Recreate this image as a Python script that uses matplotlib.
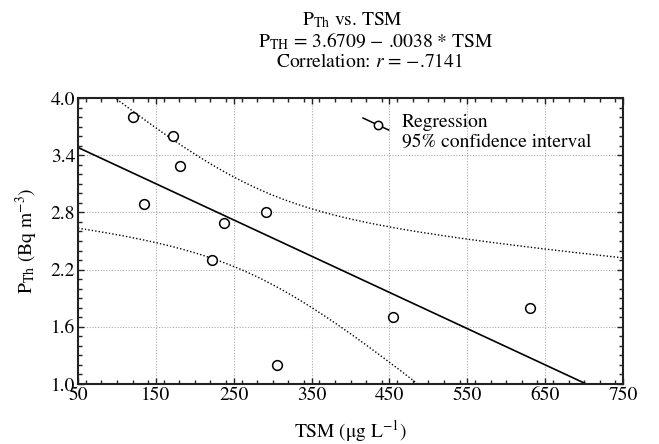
import numpy as np
import matplotlib
matplotlib.use('Agg')
import matplotlib.pyplot as plt
from matplotlib.ticker import MultipleLocator

plt.rcParams['font.family'] = ['STIXGeneral', 'DejaVu Serif']
plt.rcParams['mathtext.fontset'] = 'stix'

# data
tsm = [120, 172, 181, 135, 237, 292, 222, 306, 455, 630]
pth = [3.80, 3.60, 3.29, 2.89, 2.69, 2.80, 2.30, 1.20, 1.70, 1.80]

# regression coefficients shown in the title
intercept = 3.6709
slope = -0.0038
t_crit = 2.306  # t(0.975, n-2=8)

x = np.array(tsm, dtype=float)
y = np.array(pth, dtype=float)
n = len(x)

xs = np.linspace(50, 750, 300)
fit = intercept + slope*xs

# 95% confidence band of the mean from the points
b1, b0 = np.polyfit(x, y, 1)
resid = y - (b0 + b1*x)
s = np.sqrt(np.sum(resid**2)/(n-2))
sxx = np.sum((x - x.mean())**2)
half = t_crit*s*np.sqrt(1.0/n + (xs - x.mean())**2/sxx)
band_fit = b0 + b1*xs

fig = plt.figure(figsize=(6.59, 4.44), dpi=100)
ax = fig.add_axes([78/659, 1-384/444, 545/659, 286/444])

ax.plot(xs, fit, color='black', lw=1.2)
ax.plot(xs, band_fit + half, color='black', lw=1.0, ls=(0, (1, 1.5)))
ax.plot(xs, band_fit - half, color='black', lw=1.0, ls=(0, (1, 1.5)))
ax.plot(x, y, 'o', mfc='white', mec='black', ms=7, mew=1.1, zorder=5)

ax.set_xlim(50, 750)
ax.set_ylim(1.0, 4.0)
ax.xaxis.set_minor_locator(MultipleLocator(20))
ax.yaxis.set_minor_locator(MultipleLocator(0.1))
ax.set_xticks(np.arange(50, 751, 100))
ax.set_yticks(np.arange(1.0, 4.01, 0.6))
ax.set_yticklabels(['%.1f' % v for v in np.arange(1.0, 4.01, 0.6)])
ax.tick_params(which='both', direction='in', top=True, right=True, labelsize=14,
               color='#222222', pad=2)
ax.tick_params(which='major', length=4, width=1)
ax.tick_params(which='minor', length=3, width=1)
ax.grid(True, which='major', ls=(0, (1, 1.5)), color='#aaaaaa', lw=0.8)
for sp in ax.spines.values():
    sp.set_linewidth(1.5)
    sp.set_color('#222222')

ax.set_xlabel(r'TSM ($\mathrm{\mu}$g L$^{-1}$)', fontsize=14, labelpad=10)
ax.set_ylabel(r'P$_{\mathrm{Th}}$ (Bq m$^{-3}$)', fontsize=14, labelpad=8)

# legend drawn by hand
ax.plot([0.523, 0.57], [0.93, 0.888], transform=ax.transAxes, color='black', lw=1.1)
ax.plot([0.55], [0.906], 'o', transform=ax.transAxes, mfc='white', mec='black', ms=6, mew=1.1)
ax.text(0.594, 0.913, 'Regression', transform=ax.transAxes, fontsize=14, va='center')
ax.text(0.594, 0.843, '95% confidence interval', transform=ax.transAxes, fontsize=14, va='center')

fig.text(352/659, 1-20/444, r'P$_{\mathrm{Th}}$ vs. TSM', ha='center', va='center', fontsize=14)
fig.text(376/659, 1-41/444, r'P$_{\mathrm{TH}}$ = 3.6709 $-$ .0038 * TSM', ha='center', va='center', fontsize=14)
fig.text(369/659, 1-62/444, r'Correlation: $r$ = $-$.7141', ha='center', va='center', fontsize=14)

fig.savefig('out.png', dpi=100)
